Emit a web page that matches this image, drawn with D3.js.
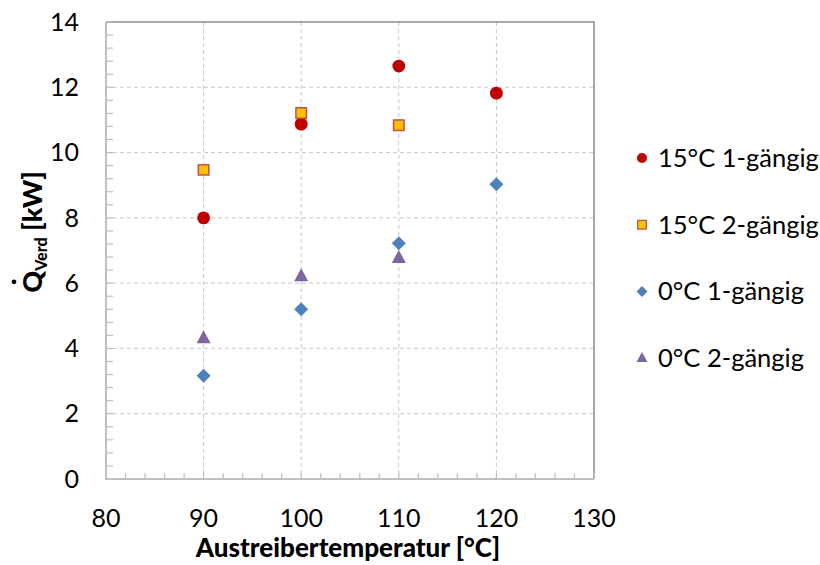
<!DOCTYPE html>
<html><head><meta charset="utf-8">
<script src="https://cdn.jsdelivr.net/npm/d3@7"></script>
<style>
body{margin:0;background:#fff;}
text{font-family:Lato,"Open Sans",sans-serif;fill:#000;}
</style></head>
<body><svg id="c" width="820" height="565"></svg>
<script>
const xTicks = [80, 90, 100, 110, 120, 130];
const yTicks = [0, 2, 4, 6, 8, 10, 12, 14];
const seriesNames = ["15°C 1-gängig", "15°C 2-gängig", "0°C 1-gängig", "0°C 2-gängig"];
const x15_1 = [90, 100, 110, 120];
const y15_1 = [8.0, 10.87, 12.65, 11.82];
const x15_2 = [90, 100, 110];
const y15_2 = [9.47, 11.21, 10.84];
const x0_1 = [90, 100, 110, 120];
const y0_1 = [3.16, 5.2, 7.22, 9.03];
const x0_2 = [90, 100, 110];
const y0_2 = [4.32, 6.22, 6.78];

const svg = d3.select("#c");
const m = {l:106, r:594, t:22, b:479};
const x = d3.scaleLinear().domain([80,130]).range([m.l, m.r]);
const y = d3.scaleLinear().domain([0,14]).range([m.b, m.t]);

// grid
svg.append("g").selectAll("line").data(xTicks.filter(d=>d>80 && d<130)).join("line")
  .attr("x1",d=>x(d)).attr("x2",d=>x(d)).attr("y1",m.t).attr("y2",m.b)
  .attr("stroke","#c8c8c8").attr("stroke-width",1).attr("stroke-dasharray","4,3");
svg.append("g").selectAll("line").data(yTicks.filter(d=>d>0 && d<14)).join("line")
  .attr("x1",m.l).attr("x2",m.r).attr("y1",d=>y(d)).attr("y2",d=>y(d))
  .attr("stroke","#c8c8c8").attr("stroke-width",1).attr("stroke-dasharray","4,3");

// border top/right
svg.append("path").attr("d",`M${m.l},${m.t}H${m.r}V${m.b}`).attr("fill","none")
  .attr("stroke","#8c8c8c").attr("stroke-width",1.5);

// minor ticks
const yMinor = d3.range(0, 14.001, 0.4);
const xMinor = d3.range(80, 130.001, 2);
svg.append("g").selectAll("line").data(yMinor).join("line")
  .attr("x1",m.l).attr("x2",m.l+7).attr("y1",d=>y(d)).attr("y2",d=>y(d))
  .attr("stroke","#bfbfbf").attr("stroke-width",1.2);
svg.append("g").selectAll("line").data(xMinor).join("line")
  .attr("x1",d=>x(d)).attr("x2",d=>x(d)).attr("y1",m.b).attr("y2",m.b-6)
  .attr("stroke","#bfbfbf").attr("stroke-width",1.2);

// axes lines
svg.append("path").attr("d",`M${m.l},${m.t}V${m.b}H${m.r}`).attr("fill","none")
  .attr("stroke","#bfbfbf").attr("stroke-width",2);

// tick labels
svg.append("g").selectAll("text").data(yTicks).join("text")
  .attr("x",79).attr("y",d=>y(d)).attr("dy","0.35em").attr("text-anchor","end")
  .style("font-size","25px").text(d=>d);
svg.append("g").selectAll("text").data(xTicks).join("text")
  .attr("x",d=>x(d)).attr("y",527).attr("text-anchor","middle")
  .style("font-size","25px").text(d=>d);

// axis titles
svg.append("text").attr("x",348).attr("y",557).attr("text-anchor","middle")
  .style("font-size","26px").style("font-weight","900").text("Austreibertemperatur [°C]");
const yt = svg.append("g").attr("transform","translate(42,232) rotate(-90)");
const ytxt = yt.append("text").attr("text-anchor","middle").style("font-size","27px").style("font-weight","900");
const qSpan = ytxt.append("tspan").text("Q");
ytxt.append("tspan").attr("dy",5).style("font-size","16px").style("font-weight","900").text("Verd");
ytxt.append("tspan").attr("dy",-5).style("font-weight","900").text(" [kW]");
const full = ytxt.node().getComputedTextLength();
const qw = qSpan.node().getComputedTextLength();
yt.append("circle").attr("cx",-full/2 + qw/2).attr("cy",-28).attr("r",2.4).attr("fill","#000");

// markers
const diamondPath = (s) => `M0,${-s}L${s},0L0,${s}L${-s},0Z`;
const trianglePath = (w,h) => `M0,${-h*0.6}L${w/2},${h*0.4}L${-w/2},${h*0.4}Z`;
const sym = {
  circle: d3.symbol().type(d3.symbolCircle).size(130),
  square: d3.symbol().type(d3.symbolSquare).size(110),
  diamond: () => diamondPath(7),
  triangle: () => trianglePath(14,13)
};
const series = [
  {xs:x15_1, ys:y15_1, s:"circle", fill:"#c00000", stroke:"none"},
  {xs:x15_2, ys:y15_2, s:"square", fill:"#ffc000", stroke:"#c0504d"},
  {xs:x0_1, ys:y0_1, s:"diamond", fill:"#4f81bd", stroke:"none"},
  {xs:x0_2, ys:y0_2, s:"triangle", fill:"#8064a2", stroke:"none"}
];
series.forEach(se=>{
  svg.append("g").selectAll("path").data(se.xs.map((v,i)=>[v,se.ys[i]])).join("path")
    .attr("d",sym[se.s]).attr("transform",d=>`translate(${x(d[0])},${y(d[1])})`)
    .attr("fill",se.fill).attr("stroke",se.stroke).attr("stroke-width",1.5);
});

// legend
const legSym = {
  circle: d3.symbol().type(d3.symbolCircle).size(80),
  square: d3.symbol().type(d3.symbolSquare).size(75),
  diamond: () => diamondPath(5.5),
  triangle: () => trianglePath(11,10)
};
const lg = svg.append("g");
series.forEach((se,i)=>{
  const cy = 158 + i*66.7;
  lg.append("path").attr("d",legSym[se.s]).attr("transform",`translate(642,${cy})`)
    .attr("fill",se.fill).attr("stroke",se.stroke).attr("stroke-width",1.2);
  lg.append("text").attr("x",658).attr("y",cy).attr("dy","0.35em")
    .style("font-size","25.5px").text(seriesNames[i]);
});
</script></body></html>
